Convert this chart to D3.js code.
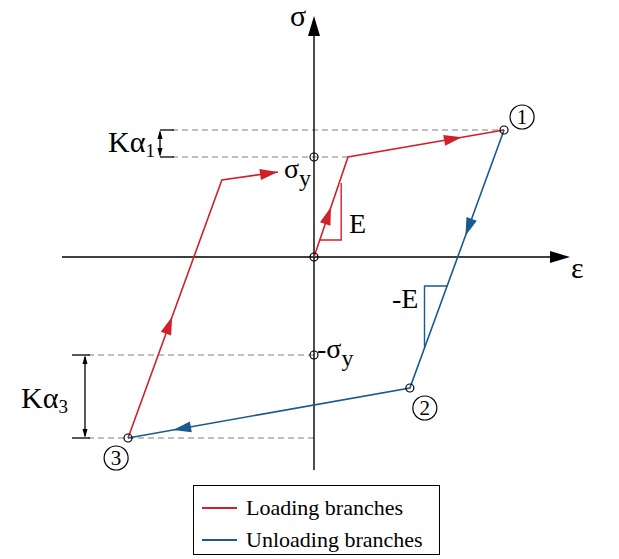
<!DOCTYPE html>
<html><head><meta charset="utf-8">
<script src="https://cdn.jsdelivr.net/npm/d3@7"></script>
<style>body{margin:0;background:#fff}svg{display:block}</style>
</head><body>
<script>
// data in units of yield strain / yield stress
const loadingA = [[0,0],[1,1],[5.59,1.27]];
const loadingB = [[-5.47,-1.81],[-2.71,0.77],[-1.06,0.85]];
const unloading = [[5.59,1.27],[2.82,-1.31],[-5.47,-1.81]];
const points = [{id:"1",p:[5.59,1.27],lab:[0.53,0.13]},{id:"2",p:[2.82,-1.31],lab:[0.44,-0.2]},{id:"3",p:[-5.47,-1.81],lab:[-0.35,-0.2]}];
const axisPoints = [[0,0],[0,1],[0,-0.98]];
const legendItems = [{name:"Loading branches",color:"#d0212b"},{name:"Unloading branches",color:"#1a5a8c"}];

const W=619,H=559;
const SERIF="'Liberation Serif', 'Times New Roman', 'DejaVu Serif', serif";
const x=d3.scaleLinear().domain([0,1]).range([314,348]);
const y=d3.scaleLinear().domain([0,1]).range([257,157]);
const RED=legendItems[0].color, BLUE=legendItems[1].color;

const svg=d3.select("body").append("svg").attr("width",W).attr("height",H).attr("font-family",SERIF);

// dashed reference lines
const dash=svg.append("g").attr("stroke","#7f7f7f").attr("stroke-width",1).attr("stroke-dasharray","6,4");
dash.append("line").attr("x1",172).attr("x2",x(loadingA[2][0])).attr("y1",y(loadingA[2][1])).attr("y2",y(loadingA[2][1]));
dash.append("line").attr("x1",172).attr("x2",x(loadingA[1][0])).attr("y1",y(1)).attr("y2",y(1));
dash.append("line").attr("x1",88).attr("x2",x(0)).attr("y1",y(-0.98)).attr("y2",y(-0.98));
dash.append("line").attr("x1",88).attr("x2",x(0)).attr("y1",y(-1.81)).attr("y2",y(-1.81));

// axes
const ax=svg.append("g").attr("stroke","#000").attr("stroke-width",1.4);
ax.append("line").attr("x1",62).attr("x2",556).attr("y1",y(0)).attr("y2",y(0));
ax.append("line").attr("x1",x(0)).attr("x2",x(0)).attr("y1",470).attr("y2",30);
svg.append("path").attr("d",`M${x(0)},16 L${x(0)-6},36 L${x(0)+6},36 Z`).attr("fill","#000");
svg.append("path").attr("d",`M570,${y(0)} L550,${y(0)-6} L550,${y(0)+6} Z`).attr("fill","#000");

// brackets K alpha
function dimBracket(xp,y1,y2,x0,x1){
  const g=svg.append("g").attr("stroke","#000").attr("stroke-width",1.3);
  g.append("line").attr("x1",x0).attr("x2",x1).attr("y1",y1).attr("y2",y1);
  g.append("line").attr("x1",x0).attr("x2",x1).attr("y1",y2).attr("y2",y2);
  g.append("line").attr("x1",xp).attr("x2",xp).attr("y1",y1+2).attr("y2",y2-2);
  svg.append("path").attr("d",`M${xp},${y1} L${xp-2.5},${y1+9} L${xp+2.5},${y1+9}Z`).attr("fill","#000");
  svg.append("path").attr("d",`M${xp},${y2} L${xp-2.5},${y2-9} L${xp+2.5},${y2-9}Z`).attr("fill","#000");
}
dimBracket(160,y(1.27),y(1),160,174);
dimBracket(85,y(-0.98),y(-1.81),72,90);

// E triangles
const line=d3.line().x(d=>x(d[0])).y(d=>y(d[1]));
svg.append("path").attr("d",line([[0.17,0.17],[0.8,0.17],[0.8,0.74]])).attr("fill","none").attr("stroke",RED).attr("stroke-width",1.4);
svg.append("path").attr("d",line([[3.25,-0.9],[3.25,-0.29],[3.92,-0.29]])).attr("fill","none").attr("stroke",BLUE).attr("stroke-width",1.4);

// branches
[[loadingA,RED],[loadingB,RED],[unloading,BLUE]].forEach(([d,c])=>{
  svg.append("path").attr("d",line(d)).attr("fill","none").attr("stroke",c).attr("stroke-width",1.6);
});

// arrowheads
function arrowOn(a,b,t,c){
  const x1=x(a[0]),y1=y(a[1]),x2=x(b[0]),y2=y(b[1]);
  const tx=x1+(x2-x1)*t,ty=y1+(y2-y1)*t;
  const ang=Math.atan2(y2-y1,x2-x1)*180/Math.PI;
  svg.append("path").attr("d","M0,0 L-18,-5.5 L-18,5.5 Z").attr("fill",c)
    .attr("transform",`translate(${tx},${ty}) rotate(${ang})`);
}
arrowOn(loadingA[0],loadingA[1],0.5,RED);
arrowOn(loadingA[1],loadingA[2],0.73,RED);
arrowOn(loadingB[1],loadingB[2],1,RED);
arrowOn(loadingB[0],loadingB[1],0.47,RED);
arrowOn(unloading[0],unloading[1],0.41,BLUE);
arrowOn(unloading[1],unloading[2],0.84,BLUE);

// small circles
const circ=[...axisPoints,...points.map(p=>p.p)];
svg.selectAll("circle.pt").data(circ).enter().append("circle").attr("class","pt")
  .attr("cx",d=>x(d[0])).attr("cy",d=>y(d[1])).attr("r",4).attr("fill","none").attr("stroke","#000").attr("stroke-width",1.2);

// numbered circles
points.forEach(p=>{
  const cx=x(p.p[0]+p.lab[0]), cy=y(p.p[1]+p.lab[1]);
  svg.append("circle").attr("cx",cx).attr("cy",cy).attr("r",12).attr("fill","none").attr("stroke","#000").attr("stroke-width",1.2);
  svg.append("text").attr("x",cx).attr("y",cy+7).attr("text-anchor","middle").attr("font-size",21).text(p.id);
});

// labels
function txt(xp,yp,s,size){return svg.append("text").attr("x",xp).attr("y",yp).attr("font-size",size||28).text(s);}
txt(290,26,"σ",30);
txt(571,278,"ε",30);
txt(349,233,"E",28);
txt(392,308,"-E",28);
const sy=svg.append("text").attr("x",284).attr("y",178).attr("font-size",28);
sy.append("tspan").text("σ"); sy.append("tspan").attr("dy",8).attr("font-size",24).text("y");
const msy=svg.append("text").attr("x",317).attr("y",358).attr("font-size",28);
msy.append("tspan").text("-σ"); msy.append("tspan").attr("dy",8).attr("font-size",24).text("y");
const k1=svg.append("text").attr("x",108).attr("y",152).attr("font-size",30);
k1.append("tspan").text("Kα"); k1.append("tspan").attr("dy",5).attr("font-size",19).text("1");
const k3=svg.append("text").attr("x",21).attr("y",408).attr("font-size",30);
k3.append("tspan").text("Kα"); k3.append("tspan").attr("dy",5).attr("font-size",19).text("3");

// legend
const lg=svg.append("g");
lg.append("rect").attr("x",193.5).attr("y",485.5).attr("width",246).attr("height",69).attr("fill","#fff").attr("stroke","#000").attr("stroke-width",1);
legendItems.forEach((it,i)=>{
  const yy=508+i*32;
  lg.append("line").attr("x1",202).attr("x2",237).attr("y1",yy).attr("y2",yy).attr("stroke",it.color).attr("stroke-width",2);
  lg.append("text").attr("x",246).attr("y",yy+7).attr("font-size",22).text(it.name);
});
</script>
</body></html>
